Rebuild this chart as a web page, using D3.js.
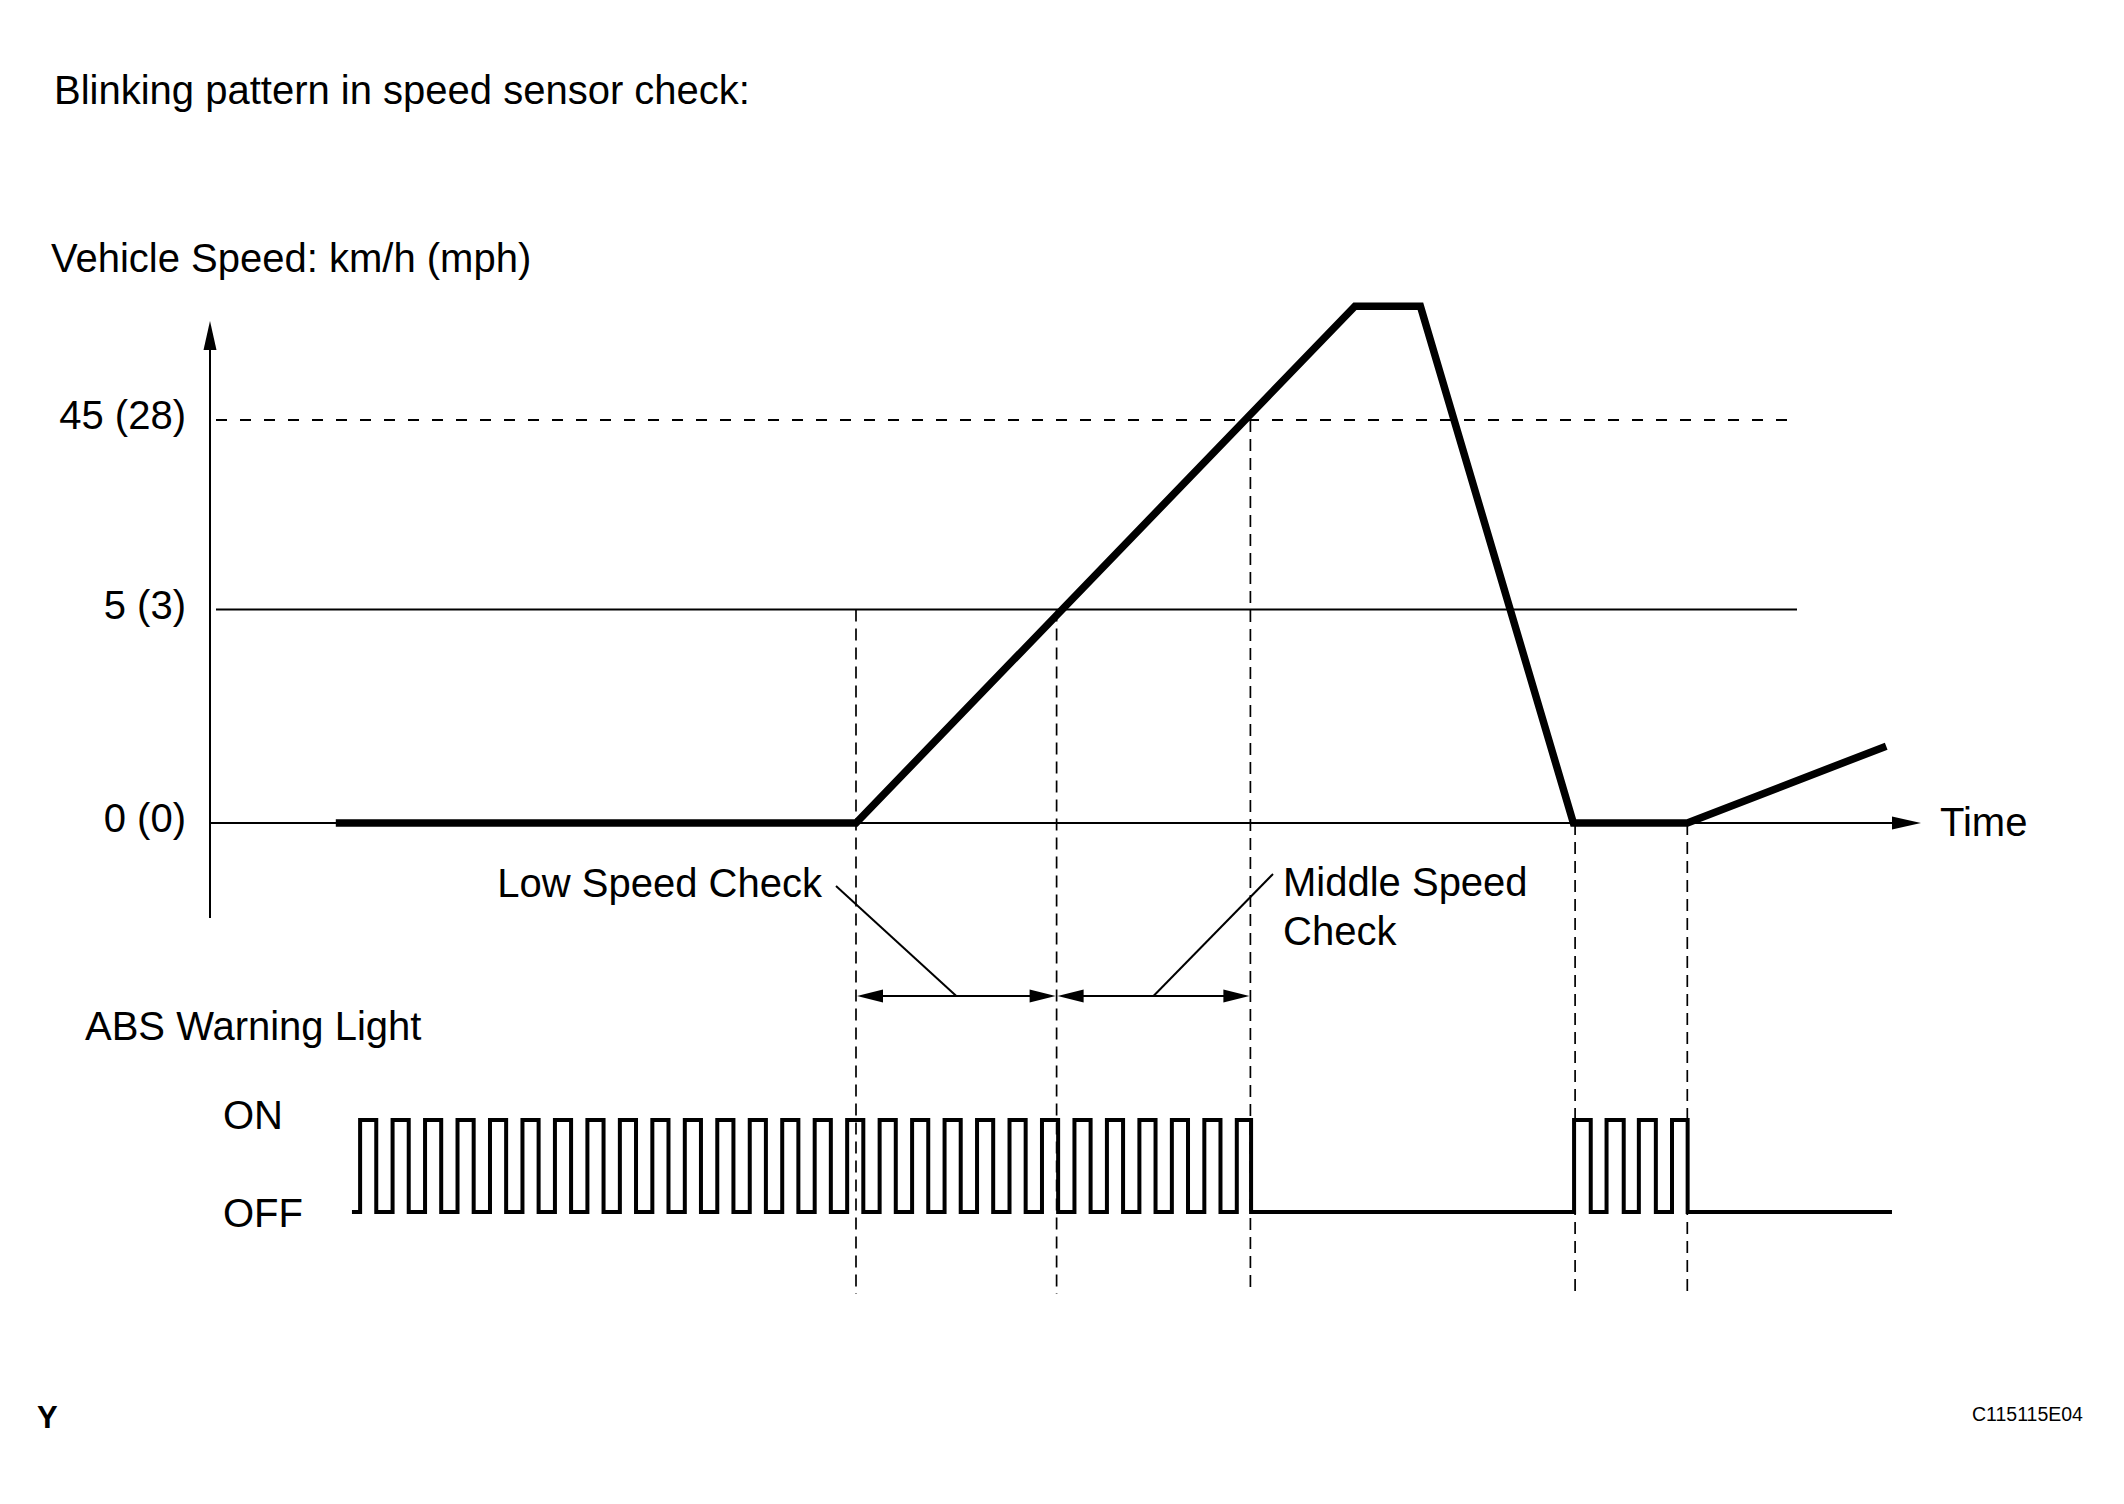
<!DOCTYPE html>
<html><head><meta charset="utf-8">
<script src="https://cdn.jsdelivr.net/npm/d3@7/dist/d3.min.js"></script>
<style>
html,body{margin:0;padding:0;background:#fff;}
svg{display:block;}
text{font-family:"Liberation Sans",Arial,Helvetica,sans-serif;fill:#000;}
</style></head><body>
<svg id="chart" width="2124" height="1504"></svg>
<script>
// ---------------- data ----------------
const speedTicks = [0, 5, 45];
const speedTickLabels = ["0 (0)", "5 (3)", "45 (28)"];
const speedTime  = [7.4, 38.0, 67.35, 71.2, 80.2, 86.9, 98.6];
const speedValue = [0, 0, 69, 69, 0, 0, 1.8];
const markerTime = [38.0, 49.8, 61.2, 80.3, 86.9];
const markerFrom = [5, 5, 45, 0, 0];
const blinkStart = 8.35;
const blinkEnd = 98.94;
const blinkOn  = [8.83, 10.74, 12.65, 14.56, 16.47, 18.38, 20.29, 22.20, 24.11, 26.02,
                  27.93, 29.84, 31.75, 33.66, 35.57, 37.48, 39.39, 41.30, 43.21, 45.12,
                  47.03, 48.94, 50.85, 52.76, 54.67, 56.58, 58.49, 60.40,
                  80.24, 82.15, 84.05, 86.00];
const blinkOff = [9.78, 11.69, 13.60, 15.51, 17.42, 19.33, 21.24, 23.15, 25.06, 26.97,
                  28.88, 30.79, 32.70, 34.61, 36.52, 38.43, 40.34, 42.25, 44.16, 46.07,
                  47.98, 49.89, 51.80, 53.71, 55.62, 57.53, 59.44, 61.24,
                  81.22, 83.16, 85.05, 86.92];
const lampStates = ["OFF", "ON"];
const checkNames = ["Low Speed Check", "Middle Speed Check"];
const checkFrom = [38.0, 49.8];
const checkTo   = [49.8, 61.2];

// ---------------- layout ----------------
const svg = d3.select("#chart");
const FS = 40;
const axisX = 210;
const x = d3.scaleLinear().domain([0, 100]).range([210, 1910]);
const y = d3.scaleLinear().domain([0, 5, 45]).range([823, 609.6, 420]);
const yLamp = d3.scaleLinear().domain([0, 1]).range([1212, 1120]);

function txt(s, x0, y0, opts = {}) {
  const t = svg.append("text").attr("x", x0).attr("y", y0).text(s)
    .style("font-size", (opts.size || FS) + "px");
  if (opts.anchor) t.attr("text-anchor", opts.anchor);
  if (opts.weight) t.style("font-weight", opts.weight);
  return t;
}
function tri(points) {
  svg.append("path").attr("d", "M" + points.map(p => p.join(",")).join("L") + "Z").attr("fill", "#000");
}

// titles
txt("Blinking pattern in speed sensor check:", 54, 104);
txt("Vehicle Speed: km/h (mph)", 51, 272);
txt("ABS Warning Light", 85, 1040);
txt("Time", 1940, 836);

// y axis
svg.append("line").attr("x1", axisX).attr("x2", axisX).attr("y1", 345).attr("y2", 918)
  .attr("stroke", "#000").attr("stroke-width", 2);
tri([[axisX, 321], [axisX - 6.5, 350], [axisX + 6.5, 350]]);

const yAxis = d3.axisLeft(y).tickValues(speedTicks)
  .tickFormat((d, i) => speedTickLabels[i]).tickSize(0).tickPadding(24);
const gy = svg.append("g").attr("transform", `translate(${axisX},0)`).call(yAxis);
gy.select(".domain").remove();
gy.selectAll("text").style("font-size", FS + "px")
  .style("font-family", '"Liberation Sans",Arial,sans-serif').attr("dy", "0.22em");

// time axis
svg.append("line").attr("x1", axisX).attr("x2", 1897).attr("y1", y(0)).attr("y2", y(0))
  .attr("stroke", "#000").attr("stroke-width", 2);
tri([[1921, y(0)], [1892, y(0) - 6.5], [1892, y(0) + 6.5]]);

// reference lines
svg.append("line").attr("x1", 216).attr("x2", 1797).attr("y1", y(45)).attr("y2", y(45))
  .attr("stroke", "#000").attr("stroke-width", 2).attr("stroke-dasharray", "11,13");
svg.append("line").attr("x1", 216).attr("x2", 1797).attr("y1", y(5)).attr("y2", y(5))
  .attr("stroke", "#000").attr("stroke-width", 2);

// vertical markers
markerTime.forEach((t, i) => {
  svg.append("line").attr("x1", x(t)).attr("x2", x(t))
    .attr("y1", y(markerFrom[i])).attr("y2", 1294)
    .attr("stroke", "#000").attr("stroke-width", 1.7).attr("stroke-dasharray", "12,7");
});

// speed trace
const speedPts = speedTime.map((t, i) => [x(t), y(speedValue[i])]);
svg.append("path").attr("d", d3.line()(speedPts)).attr("fill", "none")
  .attr("stroke", "#000").attr("stroke-width", 7.5).attr("stroke-linejoin", "miter");

// check spans with double arrows and leaders
const arrowY = 996;
checkFrom.forEach((a, i) => {
  const xa = x(a), xb = x(checkTo[i]);
  svg.append("line").attr("x1", xa + 20).attr("x2", xb - 20).attr("y1", arrowY).attr("y2", arrowY)
    .attr("stroke", "#000").attr("stroke-width", 2);
  tri([[xa + 1, arrowY], [xa + 27, arrowY - 6.5], [xa + 27, arrowY + 6.5]]);
  tri([[xb - 1, arrowY], [xb - 27, arrowY - 6.5], [xb - 27, arrowY + 6.5]]);
});
const midLow = (x(checkFrom[0]) + x(checkTo[0])) / 2;
const midMid = (x(checkFrom[1]) + x(checkTo[1])) / 2;
svg.append("line").attr("x1", 836).attr("y1", 886).attr("x2", midLow).attr("y2", arrowY)
  .attr("stroke", "#000").attr("stroke-width", 2);
svg.append("line").attr("x1", 1273).attr("y1", 874).attr("x2", midMid).attr("y2", arrowY)
  .attr("stroke", "#000").attr("stroke-width", 2);
txt(checkNames[0], 822, 897, {anchor: "end"});
const mt = txt("", 1283, 896);
mt.append("tspan").attr("x", 1283).text(checkNames[1].split(" ").slice(0, 2).join(" "));
mt.append("tspan").attr("x", 1283).attr("dy", 49).text(checkNames[1].split(" ").slice(2).join(" "));

// lamp labels
txt(lampStates[1], 223, yLamp(1) + 9);
txt(lampStates[0], 223, yLamp(0) + 15);

// blinking square wave
const wave = [[blinkStart, 0]];
blinkOn.forEach((t, i) => { wave.push([t, 1]); wave.push([blinkOff[i], 0]); });
wave.push([blinkEnd, 0]);
svg.append("path")
  .attr("d", d3.line().x(d => x(d[0])).y(d => yLamp(d[1])).curve(d3.curveStepAfter)(wave))
  .attr("fill", "none").attr("stroke", "#000").attr("stroke-width", 4)
  .attr("stroke-linejoin", "miter");

// footer
txt("Y", 37, 1428, {size: 31, weight: "bold"});
txt("C115115E04", 1972, 1421, {size: 19.5});
</script>
</body></html>
